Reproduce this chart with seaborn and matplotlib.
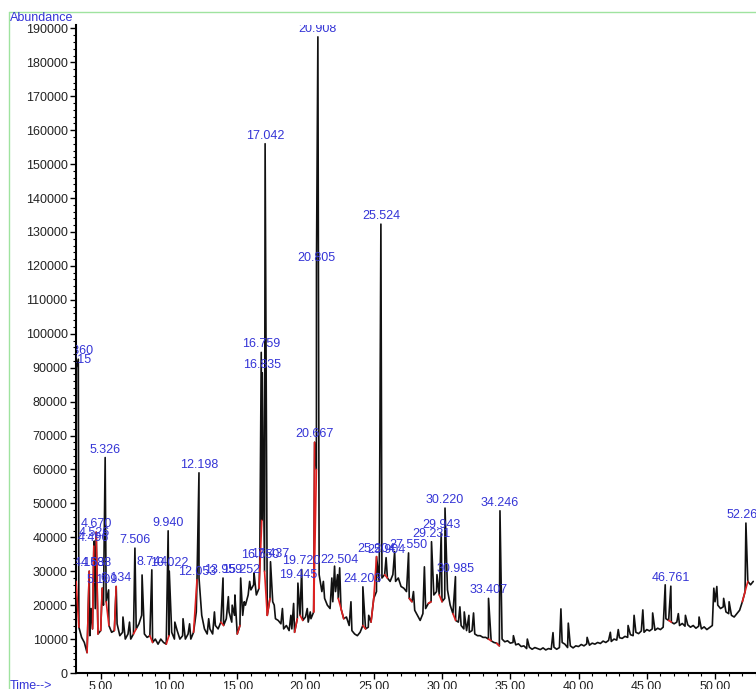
import numpy as np
import pandas as pd
import matplotlib
matplotlib.use("Agg")
import matplotlib.pyplot as plt
import seaborn as sns
from matplotlib.lines import Line2D
from matplotlib.ticker import MultipleLocator, FormatStrFormatter

# ---------------- data (abundance in thousands) ----------------
# baseline read every 0.2 min starting at 3.2 min
grid_start = 3.2
grid_step = 0.2
baseline_k = [
    27, 13.5, 10.5, 9, 6, 11, 13, 19, 11.5, 12.5,          # 3.2 - 5.0
    20, 21, 14, 12, 12.5, 14.5, 11, 12, 10, 11.5,           # 5.2 - 7.0
    10, 11.5, 13, 14.5, 17, 11.5, 10.5, 11, 9, 10,          # 7.2 - 9.0
    8.5, 10, 9, 8.5, 11, 12, 10, 12.5, 10, 11,              # 9.2 - 11.0
    10, 11.5, 10, 12, 18, 28, 17, 13, 11.5, 13,             # 11.2 - 13.0
    11.5, 14, 13, 15, 14, 16, 18, 15, 17, 11.5,             # 13.2 - 15.0
    14, 17, 20, 23, 24.5, 26, 23, 25, 45, 30,               # 15.2 - 17.0
    17, 22, 21, 16, 15.5, 14.5, 13, 14, 12.5, 13,           # 17.2 - 19.0
    12, 16, 17, 15.5, 16.5, 15, 16, 18, 60, 29,             # 19.2 - 21.0
    24, 22, 20, 19, 21, 24, 22, 19, 16, 16.5,               # 21.2 - 23.0
    14, 12.5, 11.5, 11, 12, 14, 13, 13.5, 15, 22,           # 23.2 - 25.0
    24, 27, 28, 29, 28, 27, 29, 27, 28, 25.5,               # 25.2 - 27.0
    25, 24, 22, 21, 18.5, 17, 15.5, 17.5, 19, 20.5,         # 27.2 - 29.0
    21, 23, 24, 23, 21, 22, 24.5, 20, 17.5, 15.5,           # 29.2 - 31.0
    15, 14, 13, 12.5, 12, 12.5, 11.5, 11, 11, 10.5,         # 31.2 - 33.0
    10.5, 10, 9.5, 9, 8.8, 8, 10, 9.2, 9.5, 8.8,            # 33.2 - 35.0
    9, 8.3, 8.6, 7.8, 8, 7.2, 7.6, 7, 7.5, 7.2,             # 35.2 - 37.0
    6.9, 7.4, 6.8, 7.2, 7, 7.6, 7, 7.5, 9, 8.5,             # 37.2 - 39.0
    7.5, 8, 7.4, 8, 7.8, 8.4, 8, 8.6, 8.2, 8.8,             # 39.2 - 41.0
    8.5, 9, 8.7, 9.4, 9, 9.6, 9.3, 10, 9.7, 10.4,           # 41.2 - 43.0
    10.2, 10.8, 10.5, 11.3, 11, 12, 11.6, 12.4, 12, 12.8,   # 43.2 - 45.0
    12.4, 13, 12.6, 13.2, 12.8, 13.5, 16, 15.5, 15, 14.5,   # 45.2 - 47.0
    15, 14, 14.6, 13.8, 14.2, 13.5, 14, 13.2, 13.8, 13,     # 47.2 - 49.0
    13.6, 12.8, 13.4, 14, 21, 20, 19, 19.5, 18, 17.5,       # 49.2 - 51.0
    17, 16.5, 17.5, 18.5, 21, 24, 27, 26, 27,               # 51.2 - 52.8
]

# labelled peaks
peak_labels = ["3.215", "3.360", "4.158", "4.496", "4.526", "4.638", "4.670",
               "5.109", "5.326", "6.134", "7.506", "8.744", "9.940", "10.022",
               "12.053", "12.198", "13.959", "15.252", "16.650", "16.759",
               "16.835", "17.042", "17.437", "19.445", "19.720", "20.667",
               "20.805", "20.908", "22.504", "24.203", "25.204", "25.524",
               "25.904", "27.550", "29.231", "29.943", "30.220", "30.985",
               "33.407", "34.246", "46.761", "52.261"]
peak_heights_k = [90, 92.5, 30, 37.4, 38.9, 30, 41.5,
                  25, 63.5, 25.5, 36.8, 30.4, 41.9, 30,
                  27.5, 59, 28, 28, 32.5, 94.5,
                  88.5, 156, 32.8, 26.5, 30.5, 68,
                  120, 187.5, 31, 25.4, 34.3, 132.3,
                  34, 35.4, 38.7, 41.2, 48.6, 28.4,
                  22, 47.8, 25.6, 44.2]

# unlabelled spikes
spike_times = [4.30, 5.45, 5.58, 6.63, 7.11, 8.03, 10.43, 11.03, 11.51, 12.91,
               13.33, 14.35, 14.63, 14.83, 15.51, 15.91, 16.23, 17.71, 18.31,
               18.93, 19.13, 20.13, 20.35, 21.31, 21.93, 22.13, 22.35, 23.33,
               24.63, 26.53, 27.91, 28.71, 29.63, 31.31, 31.63, 31.97, 32.31,
               35.23, 36.25, 38.13, 38.71, 39.25, 40.63, 42.33, 42.91, 43.63,
               44.07, 44.71, 45.43, 46.35, 47.31, 47.83, 48.83, 49.91, 50.13,
               50.63, 51.03]
spike_heights_k = [19, 22, 24.5, 16.5, 15, 28.9, 15, 16, 14.5, 16,
                   18, 22.5, 20, 23, 21, 27, 29.5, 20, 19,
                   17, 20.5, 19, 18, 27, 28, 31.5, 29, 21,
                   17, 35.8, 24, 31.3, 29, 19.5, 18, 17, 17.7,
                   11, 10, 11.9, 18.9, 14.7, 10.5, 12, 12.8, 14,
                   17, 18.6, 17.7, 26, 17.5, 17, 16.5, 25, 25.5,
                   22, 21]

# integration baselines (red), start/end retention times
red_start = [3.2, 4.0, 4.4, 4.670, 5.0, 5.4, 6.0, 7.4, 8.6, 9.8, 11.8, 13.8,
             15.0, 16.6, 17.0, 17.2, 19.2, 19.6, 20.6, 20.6, 22.4, 22.6, 24.2,
             24.8, 25.0, 25.8, 27.6, 29.0, 29.8, 30.8, 33.4, 34.0, 46.6, 52.0]
red_end = [3.4, 4.158, 4.496, 4.8, 5.109, 5.6, 6.134, 7.6, 8.8, 10.0, 12.053,
           14.0, 15.2, 16.8, 17.2, 17.4, 19.4, 19.8, 20.667, 20.8, 22.6, 22.8,
           24.4, 25.0, 25.204, 26.0, 27.8, 29.2, 30.0, 31.0, 33.6, 34.2, 46.8,
           52.4]

# ---------------- build trace ----------------
grid_times = np.round(grid_start + grid_step * np.arange(len(baseline_k)), 1)
peak_times = [float(s) for s in peak_labels]
times = np.concatenate([grid_times, peak_times, spike_times])
vals = np.concatenate([baseline_k, peak_heights_k, spike_heights_k]) * 1000
df = pd.DataFrame({"time": times, "abundance": vals}).sort_values("time")
lookup = {round(t, 3): v for t, v in zip(df["time"], df["abundance"])}

# ---------------- figure ----------------
sns.set_style("ticks")
plt.rcParams["font.family"] = ["Liberation Sans", "DejaVu Sans"]

W, H = 756, 689
fig = plt.figure(figsize=(W / 100, H / 100), dpi=100)
ax = fig.add_axes([76 / W, 16 / H, 680 / W, 648 / H])

sns.lineplot(data=df, x="time", y="abundance", estimator=None, sort=False,
             color="#111111", linewidth=1.2, ax=ax, zorder=2)

for s, e in zip(red_start, red_end):
    ax.plot([s, e], [lookup[round(s, 3)], lookup[round(e, 3)]],
            color="#e02020", linewidth=1.2, zorder=3)

blue = "#3434d6"
for lab, t, h in zip(peak_labels, peak_times, peak_heights_k):
    ax.text(t, h * 1000 + 600, lab, ha="center", va="bottom", color=blue,
            fontsize=9, clip_on=True, zorder=4)

ax.set_xlim(3.19, 53.0)
ax.set_ylim(0, 191000)
ax.xaxis.set_major_locator(MultipleLocator(5))
ax.xaxis.set_minor_locator(MultipleLocator(1))
ax.yaxis.set_major_locator(MultipleLocator(10000))
ax.yaxis.set_minor_locator(MultipleLocator(2000))
ax.xaxis.set_major_formatter(FormatStrFormatter("%.2f"))
ax.yaxis.set_major_formatter(FormatStrFormatter("%d"))
ax.tick_params(which="major", direction="out", length=4, width=1,
               color="black", labelsize=9, labelcolor="#222222", pad=2)
ax.tick_params(which="minor", direction="out", length=2.5, width=0.8,
               color="black")
ax.set_xlabel("")
ax.set_ylabel("")
for side in ("top", "right"):
    ax.spines[side].set_visible(False)
for side in ("left", "bottom"):
    ax.spines[side].set_linewidth(1.5)
    ax.spines[side].set_color("black")

fig.text(10 / W, 1 - 12 / H, "Abundance", ha="left", va="top", color=blue,
         fontsize=9)
fig.text(10 / W, 1 - 680 / H, "Time-->", ha="left", va="top", color=blue,
         fontsize=9)

green = "#9fe39f"
fig.add_artist(Line2D([9 / W, 9 / W], [0, 1 - 12 / H],
                      transform=fig.transFigure, color=green, linewidth=1))
fig.add_artist(Line2D([9 / W, 1], [1 - 12 / H, 1 - 12 / H],
                      transform=fig.transFigure, color=green, linewidth=1))

fig.savefig("out.png", dpi=100)
